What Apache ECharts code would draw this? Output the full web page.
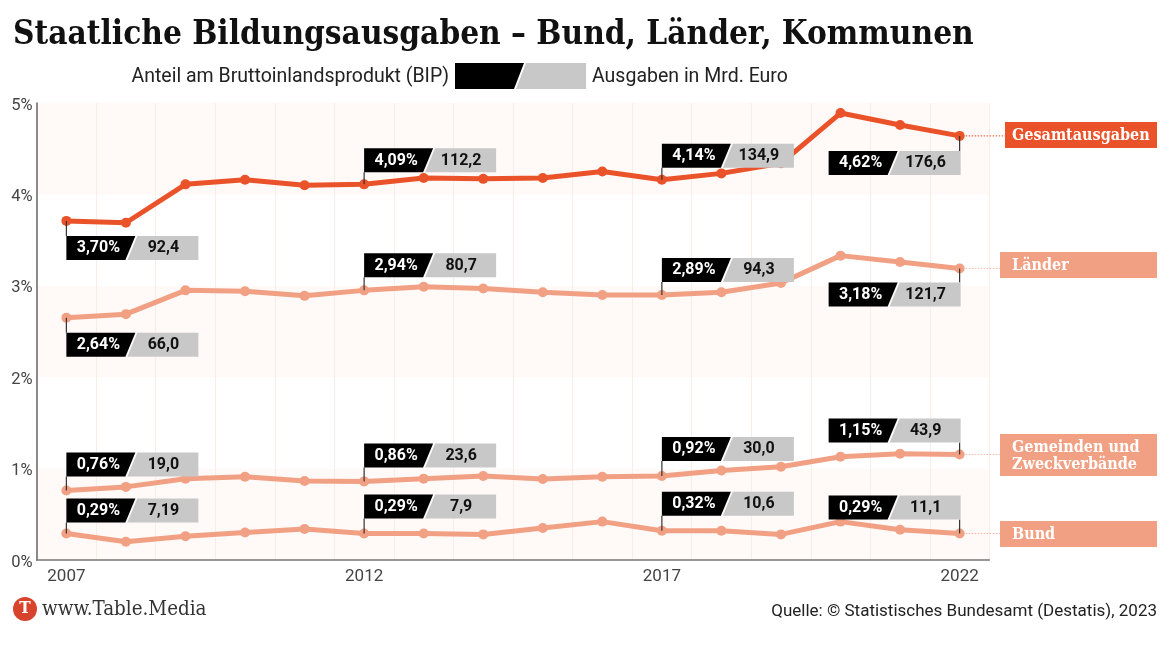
<!DOCTYPE html>
<html><head><meta charset="utf-8">
<style>html,body{margin:0;padding:0;background:#fff}#c{width:1170px;height:653px}</style>
<script src="https://cdn.jsdelivr.net/npm/echarts@6/dist/echarts.min.js"></script>
</head><body><div id="c"></div>
<script>
const years=['2007','2008','2009','2010','2011','2012','2013','2014','2015','2016','2017','2018','2019','2020','2021','2022'];
const gesamt=[3.71,3.69,4.11,4.16,4.10,4.11,4.18,4.17,4.18,4.25,4.16,4.23,4.34,4.89,4.76,4.64];
const laender=[2.65,2.69,2.95,2.94,2.89,2.95,2.99,2.97,2.93,2.90,2.90,2.93,3.03,3.33,3.26,3.19];
const gemeinden=[0.76,0.80,0.89,0.91,0.865,0.86,0.89,0.92,0.886,0.91,0.92,0.98,1.02,1.13,1.163,1.155];
const bund=[0.29,0.20,0.26,0.30,0.34,0.29,0.29,0.28,0.35,0.42,0.32,0.32,0.28,0.42,0.33,0.29];
const calloutYears=['2007','2012','2017','2022'];
const gesamtPct=['3,70%','4,09%','4,14%','4,62%'];
const gesamtMrd=['92,4','112,2','134,9','176,6'];
const laenderPct=['2,64%','2,94%','2,89%','3,18%'];
const laenderMrd=['66,0','80,7','94,3','121,7'];
const gemeindenPct=['0,76%','0,86%','0,92%','1,15%'];
const gemeindenMrd=['19,0','23,6','30,0','43,9'];
const bundPct=['0,29%','0,29%','0,32%','0,29%'];
const bundMrd=['7,19','7,9','10,6','11,1'];
const seriesNames=['Gesamtausgaben','Länder','Gemeinden und\nZweckverbände','Bund'];
const yTicks=['0%','1%','2%','3%','4%','5%'];

const RED='#ea5329',PALE='#f1a083';
const SLAB='"DejaVu Serif Condensed","DejaVu Serif",serif';
const SANS='Roboto,sans-serif';
const rows=[
 {vals:gesamt,pct:gesamtPct,mrd:gesamtMrd,dy:[15,-36,-36,15],color:RED,box:[1005,122,26]},
 {vals:laender,pct:laenderPct,mrd:laenderMrd,dy:[15,-37,-37,14],color:PALE,box:[1000,252,26]},
 {vals:gemeinden,pct:gemeindenPct,mrd:gemeindenMrd,dy:[-38,-38,-39,-36],color:PALE,box:[1000,434,42]},
 {vals:bund,pct:bundPct,mrd:bundMrd,dy:[-35,-39,-39,-38],color:PALE,box:[1000,521,26]}
];
const callouts=[];
rows.forEach(r=>calloutYears.forEach((y,i)=>{
  const k=years.indexOf(y);
  callouts.push({x:y,v:r.vals[k],pct:r.pct[i],mrd:r.mrd[i],dy:r.dy[i],right:y==='2022'});
}));
function renderCallout(params,api){
  const c=callouts[params.dataIndex];
  const p=api.coord([c.x,c.v]);
  const W=132,H=24;
  const x=c.right?p[0]+1-W:p[0];
  const y=p[1]+c.dy;
  const stemEnd=c.dy>0?y:y+H;
  return {type:'group',children:[
    {type:'line',shape:{x1:p[0],y1:p[1],x2:p[0],y2:stemEnd},style:{stroke:'#333',lineWidth:1.2}},
    {type:'polygon',shape:{points:[[x,y],[x+69,y],[x+59,y+H],[x,y+H]]},style:{fill:'#000'}},
    {type:'polygon',shape:{points:[[x+71,y],[x+W,y],[x+W,y+H],[x+61,y+H]]},style:{fill:'#c8c8c8'}},
    {type:'text',style:{x:x+32,y:y+H/2+0.5,text:c.pct,fill:'#fff',font:'700 16px '+SANS,align:'center',verticalAlign:'middle'}},
    {type:'text',style:{x:x+97,y:y+H/2+0.5,text:c.mrd,fill:'#111',font:'700 16px '+SANS,align:'center',verticalAlign:'middle'}}
  ]};
}
function renderTag(params,api){
  const r=rows[params.dataIndex];
  const p=api.coord([years[years.length-1],r.vals[r.vals.length-1]]);
  const b=r.box, right=1157;
  return {type:'group',children:[
    {type:'line',shape:{x1:p[0],y1:p[1],x2:b[0],y2:p[1]},style:{stroke:r.color,lineWidth:1,lineDash:[1.5,1.5],opacity:r.color===RED?1:0.75}},
    {type:'rect',shape:{x:b[0],y:b[1],width:right-b[0],height:b[2]},style:{fill:r.color}},
    {type:'text',style:{x:1012,y:b[1]+b[2]/2+1,text:seriesNames[params.dataIndex],fill:'#fff',font:'700 16px '+SLAB,lineHeight:17,align:'left',verticalAlign:'middle'}}
  ]};
}
const lineSeries=rows.map(r=>({type:'line',data:r.vals,symbol:'circle',symbolSize:10,showSymbol:true,z:3,
  lineStyle:{color:r.color,width:5},itemStyle:{color:r.color},emphasis:{disabled:true}}));

const chart=echarts.init(document.getElementById('c'),null,{renderer:'canvas'});
chart.setOption({
  animation:false,backgroundColor:'#fff',
  title:{text:'Staatliche Bildungsausgaben – Bund, Länder, Kommunen',left:8,top:14,
    textStyle:{fontFamily:SLAB,fontWeight:700,fontSize:33.1,color:'#111'}},
  grid:{left:36.6,top:103,width:952.8,height:457,containLabel:false},
  tooltip:{show:false},
  xAxis:{type:'category',data:years,boundaryGap:true,
    axisLine:{show:true,lineStyle:{color:'#777',width:1.5}},axisTick:{show:false},
    axisLabel:{interval:4,color:'#444',fontFamily:SANS,fontSize:17,margin:8},
    splitLine:{show:true,interval:0,lineStyle:{color:'#fbece6',width:1}}},
  yAxis:{type:'value',min:0,max:5,interval:1,
    axisLine:{show:true,lineStyle:{color:'#666',width:1.5}},axisTick:{show:false},
    axisLabel:{color:'#444',fontFamily:SANS,fontSize:16.5,margin:4,verticalAlign:'top',lineHeight:5,formatter:(v)=>yTicks[v]},
    splitLine:{show:false},
    splitArea:{show:true,areaStyle:{color:['#fff9f7','#ffffff']}}},
  series:[...lineSeries,
    {type:'custom',renderItem:renderTag,data:rows.map((r,i)=>i),z:2,silent:true,clip:false},
    {type:'custom',renderItem:renderCallout,data:callouts.map((c,i)=>i),z:5,silent:true,clip:false}
  ],
  graphic:[
    {type:'text',style:{x:449,y:77,text:'Anteil am Bruttoinlandsprodukt (BIP)',align:'right',verticalAlign:'middle',font:'400 19.5px '+SANS,fill:'#222'}},
    {type:'polygon',shape:{points:[[455,63],[524,63],[514,89],[455,89]]},style:{fill:'#000'}},
    {type:'polygon',shape:{points:[[526,63],[586,63],[586,89],[516,89]]},style:{fill:'#c8c8c8'}},
    {type:'text',style:{x:592,y:77,text:'Ausgaben in Mrd. Euro',align:'left',verticalAlign:'middle',font:'400 19.5px '+SANS,fill:'#222'}},
    {type:'circle',shape:{cx:25,cy:609,r:12},style:{fill:'#d8432c'}},
    {type:'text',style:{x:25,y:609,text:'T',align:'center',verticalAlign:'middle',font:'700 17px '+SLAB,fill:'#fff'}},
    {type:'text',style:{x:42,y:610,text:'www.Table.Media',align:'left',verticalAlign:'middle',font:'400 20.4px '+SLAB,fill:'#333'}},
    {type:'text',style:{x:1157,y:612,text:'Quelle: © Statistisches Bundesamt (Destatis), 2023',align:'right',verticalAlign:'middle',font:'400 17px '+SANS,fill:'#222'}}
  ]
});
</script></body></html>
